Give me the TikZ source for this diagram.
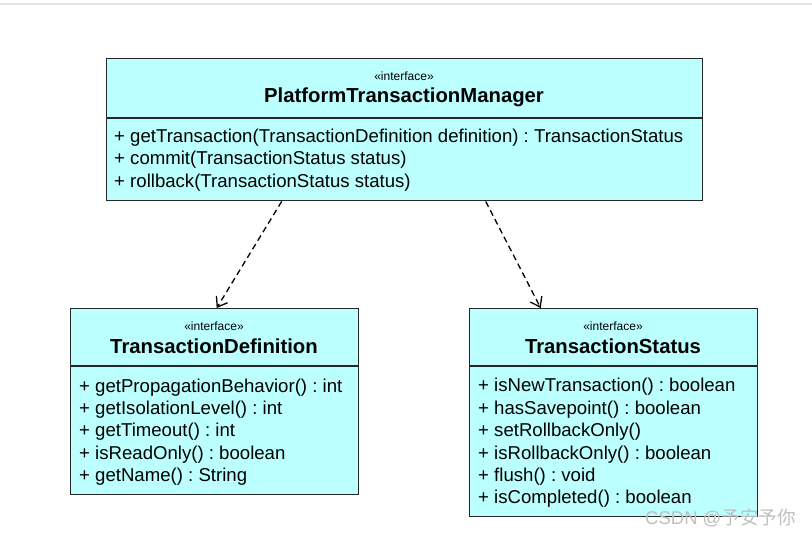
\documentclass[tikz,border=0pt]{standalone}
\usepackage{fontspec}
\setmainfont{Liberation Sans}
\newfontfamily\cjk{Noto Sans CJK SC}
\usetikzlibrary{arrows.meta}
\frenchspacing
\definecolor{boxfill}{HTML}{BBFFFF}
\tikzset{
  umlbox/.style={draw=black!85, line width=1.4pt, fill=boxfill, inner sep=0pt, anchor=north west},
  divider/.style={draw=black!85, line width=1.4pt},
  stereo/.style={font=\fontsize{12}{13}\selectfont, inner sep=0pt},
  cname/.style={font=\fontsize{20.3}{22}\selectfont\bfseries, inner sep=0pt},
  meth/.style={font=\fontsize{18.6}{22.4}\selectfont, inner sep=0pt, anchor=west, align=left},
  dep/.style={draw=black, line width=1.3pt, dash pattern=on 6pt off 4pt, -{Straight Barb[length=9pt,width=13pt,line width=1.3pt]}},
}
\begin{document}
\begin{tikzpicture}[x=1pt,y=-1pt]
\useasboundingbox (0,0) rectangle (812,536);
\draw[gray!20, line width=1.5pt] (0,4) -- (812,4);
% top box
\node[umlbox, minimum width=596, minimum height=142] (top) at (106,58) {};
\draw[divider] (106,118) -- (702,118);
\node[stereo] (topst) at (404,76) {«interface»};
\node[cname] (topnm) at (404,97) {PlatformTransactionManager};
\node[meth] (topm) at (114,160) {+ getTransaction(TransactionDefinition definition) : TransactionStatus\\+ commit(TransactionStatus status)\\+ rollback(TransactionStatus status)};
% left box
\node[umlbox, minimum width=288, minimum height=186] (left) at (70,308) {};
\draw[divider] (70,366) -- (358,366);
\node[stereo] (leftst) at (214,326) {«interface»};
\node[cname] (leftnm) at (214,346) {TransactionDefinition};
\node[meth] (leftm) at (79,432) {+ getPropagationBehavior() : int\\+ getIsolationLevel() : int\\+ getTimeout() : int\\+ isReadOnly() : boolean\\+ getName() : String};
% right box
\node[umlbox, minimum width=288, minimum height=208] (right) at (469,308) {};
\draw[divider] (469,366) -- (757,366);
\node[stereo] (rightst) at (613,326) {«interface»};
\node[cname] (rightnm) at (613,346) {TransactionStatus};
\node[meth] (rightm) at (478,443) {+ isNewTransaction() : boolean\\+ hasSavepoint() : boolean\\+ setRollbackOnly()\\+ isRollbackOnly() : boolean\\+ flush() : void\\+ isCompleted() : boolean};
% dependencies
\draw[dep] ([xshift=-123]top.south) -- ([xshift=2]left.north);
\draw[dep] ([xshift=81]top.south) -- ([xshift=-73]right.north);
% watermark
\node[anchor=west, inner sep=0pt, text=gray!50, font=\fontsize{18.5}{20}\selectfont] (wm) at (645,518) {CSDN @{\cjk 予安予你}};
\end{tikzpicture}
\end{document}
